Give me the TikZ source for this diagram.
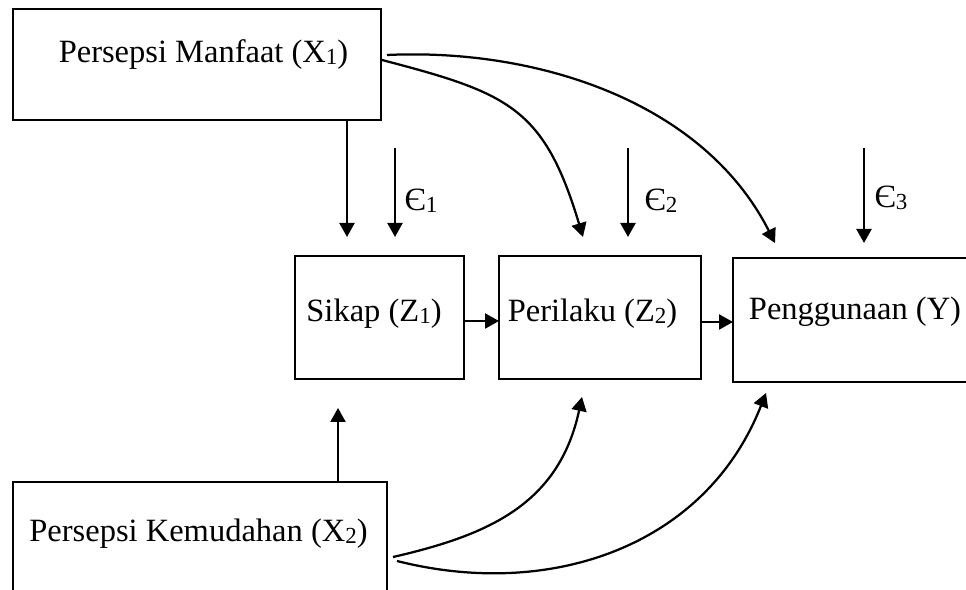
\documentclass[tikz,border=0pt]{standalone}
\usepackage{fontspec}
\setmainfont{Liberation Serif}
\usetikzlibrary{arrows.meta,calc}
% small index set close to the baseline
\newcommand{\idx}[1]{\raisebox{-0.06em}{\fontsize{9.2}{10}\selectfont #1}}
\begin{document}
\begin{tikzpicture}[x=0.4pt, y=-0.4pt,
  box/.style={draw, line width=0.9pt, inner sep=0pt, outer sep=0pt},
  lbl/.style={inner sep=0pt, font=\fontsize{13}{15}\selectfont, anchor=base},
  errlbl/.style={inner sep=0pt, font=\fontsize{13}{15}\selectfont, anchor=base west},
  link/.style={line width=0.9pt, -{Triangle[length=5.6pt,width=6pt]}},
]
\useasboundingbox (0,0) rectangle (966,590);
\clip (0,0) rectangle (966,590);

% variable boxes
\node[box, minimum width=147.2pt, minimum height=44.4pt] (X1) at (197,64.5) {};
\node[box, minimum width=67.6pt,  minimum height=49.2pt] (Z1) at (379.5,317.5) {};
\node[box, minimum width=80.8pt,  minimum height=49.2pt] (Z2) at (600,317.5) {};
\node[box, minimum width=102.8pt, minimum height=49.6pt] (Y)  at (861.5,320) {};
\node[box, minimum width=149.6pt, minimum height=51.2pt] (X2) at (200,546) {};

% box captions
\node[lbl] (tX1) at (203.5,63) {Persepsi Manfaat (X\idx{1})};
\node[lbl] (tZ1) at (374,322) {Sikap (Z\idx{1})};
\node[lbl] (tZ2) at (592.5,322) {Perilaku (Z\idx{2})};
\node[lbl] (tY)  at (855,320) {Penggunaan (Y)};
\node[lbl] (tX2) at (198.5,542) {Persepsi Kemudahan (X\idx{2})};

% error terms
\coordinate (e1s) at (395,148); \coordinate (e1t) at (395,237);
\coordinate (e2s) at (628,148); \coordinate (e2t) at (628,237);
\coordinate (e3s) at (864,148); \coordinate (e3t) at (864,243);
\draw[link] (e1s) -- (e1t);
\draw[link] (e2s) -- (e2t);
\draw[link] (e3s) -- (e3t);
\node[errlbl] (l1) at (404,211) {Є\idx{1}};
\node[errlbl] (l2) at (644,211) {Є\idx{2}};
\node[errlbl] (l3) at (874,208) {Є\idx{3}};

% straight paths
\coordinate (a1) at (347,237);
\draw[link] (X1.south -| a1) -- (a1);
\coordinate (a2) at (338,408);
\draw[link] (X2.north -| a2) -- (a2);
\coordinate (h1) at (0,321);
\draw[link] (Z1.east |- h1) -- (Z2.west |- h1);
\coordinate (h2) at (0,322);
\draw[link] (Z2.east |- h2) -- (Y.west |- h2);

% curved paths from X1
\coordinate (c1t) at (583,237);
\coordinate (c2t) at (775,243);
\draw[link] ($(X1.east)+(1,-4.5)$) .. controls (508,93) and (544,107) .. (c1t);
\draw[link] ($(X1.east)+(6,-9.5)$) .. controls (536,48) and (703,101) .. (c2t);

% curved paths from X2
\coordinate (c3t) at (582,397);
\coordinate (c4t) at (766,393);
\draw[link] ($(X2.east)+(6,11)$) .. controls (489,535) and (559,504) .. (c3t);
\draw[link] ($(X2.east)+(10,15)$) .. controls (551,600) and (706,546) .. (c4t);
\end{tikzpicture}
\end{document}
